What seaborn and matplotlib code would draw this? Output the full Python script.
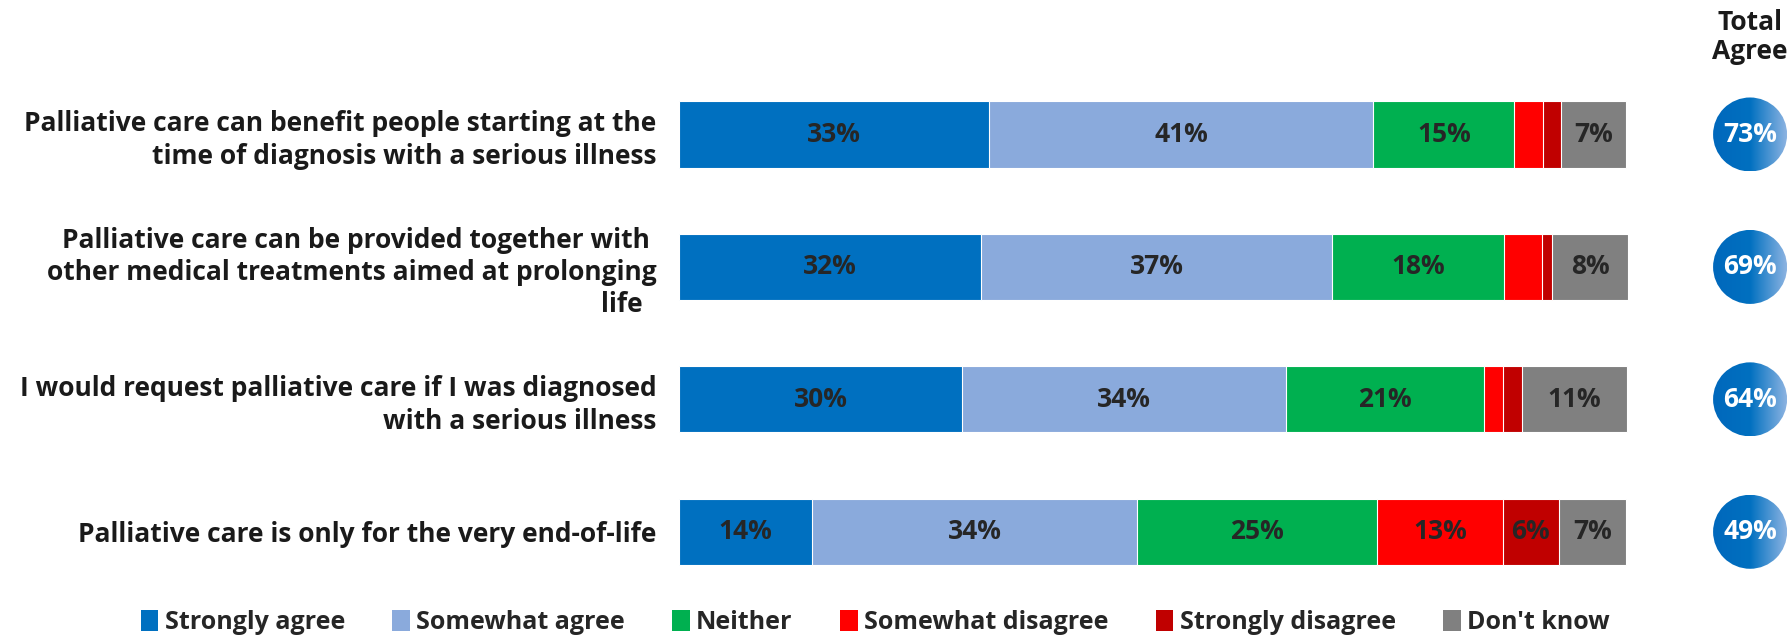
import numpy as np
import pandas as pd
import matplotlib
matplotlib.use("Agg")
import matplotlib.pyplot as plt
import seaborn as sns
from matplotlib.patches import Ellipse, Patch
from matplotlib.colors import LinearSegmentedColormap

# Data (percent of respondents)
statements = [
    "Palliative care can benefit people starting at the\ntime of diagnosis with a serious illness",
    "Palliative care can be provided together with \nother medical treatments aimed at prolonging\nlife  ",
    "I would request palliative care if I was diagnosed\nwith a serious illness",
    "Palliative care is only for the very end-of-life",
]
strongly_agree = [32.7, 31.9, 29.9, 14.0]
somewhat_agree = [40.6, 37.1, 34.2, 34.4]
neither = [14.9, 18.1, 20.9, 25.3]
somewhat_disagree = [3.0, 4.0, 2.0, 13.3]
strongly_disagree = [1.9, 1.1, 2.0, 5.9]
dont_know = [6.9, 8.0, 11.1, 7.1]
total_agree = [73, 69, 64, 49]

categories = ["Strongly agree", "Somewhat agree", "Neither",
              "Somewhat disagree", "Strongly disagree", "Don't know"]
colors = ["#0070C0", "#8AAADC", "#00B050", "#FF0000", "#C00000", "#808080"]

df = pd.DataFrame({
    "Statement": statements,
    "Strongly agree": strongly_agree,
    "Somewhat agree": somewhat_agree,
    "Neither": neither,
    "Somewhat disagree": somewhat_disagree,
    "Strongly disagree": strongly_disagree,
    "Don't know": dont_know,
})
cum = df[categories].cumsum(axis=1)

sns.set_style("white")
plt.rcParams['font.family'] = ['Open Sans', 'DejaVu Sans']

fig = plt.figure(figsize=(17.9, 6.38), dpi=100)
ax = fig.add_axes([0.3793, 0.0627, 0.5302, 0.8303])

# Stacked bars: draw cumulative totals from the outermost segment inwards
for cat, col in reversed(list(zip(categories, colors))):
    sns.barplot(x=cum[cat], y=df["Statement"], orient="h", color=col,
                saturation=1, width=0.5, edgecolor="white", linewidth=0.8, ax=ax)

# Segment labels
for i in range(len(df)):
    start = 0
    for cat in categories:
        v = df.loc[i, cat]
        if v >= 5:
            ax.text(start + v / 2, i, f"{round(v)}%", ha="center", va="center",
                    fontsize=19, fontweight="bold", color="#262626")
        start += v

ax.set_xlim(0, cum["Don't know"].max())
ax.set_ylim(3.5, -0.5)
ax.set_xlabel("")
ax.set_ylabel("")
ax.set_xticks([])
ax.tick_params(axis="y", length=0, pad=16)
for lbl in ax.get_yticklabels():
    lbl.set_fontweight("bold")
    lbl.set_fontsize(19)
    lbl.set_color("#1a1a1a")
    lbl.set_linespacing(1.25)
sns.despine(ax=ax, left=True, bottom=True)

# Total agree circles with a left-to-right gradient
cax = fig.add_axes([0.9377, 0.0627, 0.08, 0.8303])
cax.axis("off")
cmap = LinearSegmentedColormap.from_list(
    "circ", [(0, "#0068BC"), (0.5, "#0070C0"), (1, "#8DB4E2")])
grad = np.tile(np.linspace(0, 1, 256), (32, 1))
diam_px = 74
w = diam_px / cax.bbox.width
h = diam_px / (cax.bbox.height / 4)
for i, t in enumerate(total_agree):
    ell = Ellipse((0.5, i), w, h, facecolor="none", edgecolor="none")
    cax.add_patch(ell)
    im = cax.imshow(grad, extent=[0.5 - w / 2, 0.5 + w / 2, i + h / 2, i - h / 2],
                    cmap=cmap, aspect="auto", interpolation="bilinear")
    im.set_clip_path(ell)
    cax.text(0.5, i, f"{t}%", ha="center", va="center", color="white",
             fontsize=19, fontweight="bold")
cax.set_xlim(0, 1)
cax.set_ylim(3.5, -0.5)

fig.text(0.9777, 0.942, "Total\nAgree", ha="center", va="center",
         fontsize=19, fontweight="bold", color="#1a1a1a", linespacing=1.1)

handles = [Patch(facecolor=c, edgecolor="none", label=l) for c, l in zip(colors, categories)]
fig.legend(handles=handles, loc="center", bbox_to_anchor=(0.489, 0.024), ncol=6,
           frameon=False, prop={"weight": "bold", "size": 18},
           handlelength=0.7, handleheight=0.9, handletextpad=0.25, columnspacing=1.9)

fig.savefig("out.png", dpi=100)
